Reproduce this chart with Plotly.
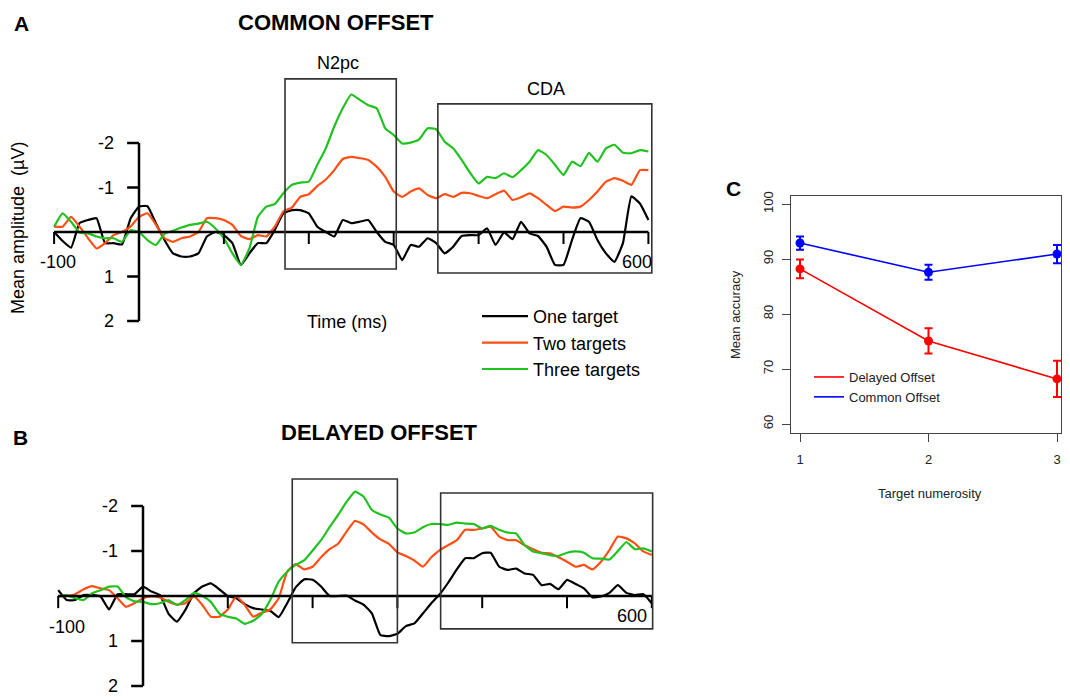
import plotly.graph_objects as go

# page body has an 8px margin; the figure is laid out in reference pixel coords
OX, OY = 8, 8
FW, FH = 1054, 689

# ---------------- data ----------------
time_ms = list(range(-100, 601, 10))
series_names = ["One target", "Two targets", "Three targets"]
series_colors = ["#000000", "#FF4F14", "#1FC21F"]

common_one = [0.0, 0.2, 0.35, -0.2, -0.27, -0.31, 0.25, 0.25, 0.28, -0.3,
              -0.57, -0.58, -0.19, 0.18, 0.48, 0.55, 0.55, 0.48, 0.1, 0.0,
              0.07, 0.25, 0.74, 0.48, 0.25, 0.25, -0.05, -0.42, -0.49, -0.49,
              -0.42, -0.12, 0.0, 0.1, -0.27, -0.2, -0.23, -0.27, 0.0, 0.22,
              0.29, 0.63, 0.29, 0.33, 0.14, 0.25, 0.48, 0.33, 0.09, 0.07,
              0.07, -0.08, 0.29, 0.01, 0.16, -0.23, 0.03, 0.09, 0.33, 0.74,
              0.74, 0.18, -0.31, -0.23, 0.18, 0.48, 0.67, 0.25, -0.8, -0.64,
              -0.27]
common_two = [-0.12, -0.12, -0.34, -0.12, 0.14, 0.37, 0.25, 0.07, 0.0, -0.12,
              -0.34, -0.42, -0.16, 0.14, 0.22, 0.14, 0.1, 0.0, -0.31, -0.31,
              -0.27, -0.16, 0.09, 0.16, 0.07, 0.1, -0.12, -0.46, -0.55, -0.79,
              -0.85, -1.03, -1.18, -1.39, -1.64, -1.69, -1.66, -1.62, -1.47, -1.24,
              -0.91, -0.79, -0.91, -0.98, -0.83, -0.76, -0.85, -0.79, -0.88, -0.87,
              -0.81, -0.76, -0.85, -0.93, -0.72, -0.78, -0.87, -0.76, -0.61, -0.47,
              -0.57, -0.55, -0.57, -0.72, -0.91, -1.13, -1.21, -1.15, -1.06, -1.39,
              -1.39]
common_three = [-0.12, -0.42, -0.23, 0.01, 0.03, 0.1, 0.14, 0.14, 0.22, -0.04,
                0.0, 0.18, 0.29, 0.04, -0.03, -0.1, -0.16, -0.19, -0.23, -0.08,
                0.14, 0.48, 0.74, 0.37, -0.34, -0.57, -0.63, -0.87, -1.06, -1.11,
                -1.13, -1.51, -1.88, -2.37, -2.78, -3.09, -2.97, -2.85, -2.78, -2.33,
                -2.18, -1.99, -2.01, -2.08, -2.33, -2.31, -2.03, -1.88, -1.62, -1.33,
                -1.09, -1.24, -1.21, -1.32, -1.23, -1.39, -1.58, -1.84, -1.73, -1.51,
                -1.28, -1.58, -1.48, -1.78, -1.58, -1.88, -1.96, -1.78, -1.77, -1.84,
                -1.81]

delayed_one = [-0.13, 0.09, 0.09, -0.02, -0.02, 0.01, 0.3, -0.04, -0.04, -0.04,
               -0.21, -0.1, -0.02, 0.39, 0.57, 0.31, -0.06, -0.21, -0.28, -0.15,
               0.0, 0.05, 0.18, 0.27, 0.3, 0.33, 0.47, 0.16, -0.19, -0.37,
               -0.36, -0.21, 0.0, 0.0, -0.01, 0.1, 0.19, 0.39, 0.87, 0.89,
               0.84, 0.67, 0.61, 0.39, 0.16, -0.04, -0.3, -0.59, -0.84, -0.84,
               -0.95, -0.96, -0.65, -0.58, -0.61, -0.5, -0.47, -0.24, -0.27, -0.15,
               -0.36, -0.27, -0.17, 0.03, 0.01, -0.07, -0.24, -0.07, -0.02, -0.04,
               0.16]
delayed_two = [0.01, 0.0, -0.04, -0.15, -0.22, -0.17, -0.13, 0.05, 0.24, 0.16,
               0.05, 0.01, 0.03, 0.13, 0.19, 0.16, 0.01, 0.2, 0.46, 0.46,
               0.3, 0.01, 0.2, 0.46, 0.37, 0.3, 0.05, -0.54, -0.71, -0.59,
               -0.65, -0.86, -1.04, -1.16, -1.43, -1.67, -1.59, -1.41, -1.26, -1.16,
               -0.97, -0.89, -0.79, -0.65, -0.86, -1.02, -1.13, -1.24, -1.47, -1.47,
               -1.5, -1.54, -1.32, -1.24, -1.24, -1.13, -1.04, -0.96, -0.95, -0.86,
               -0.76, -0.65, -0.69, -0.59, -0.76, -1.02, -1.32, -1.28, -1.17, -0.99,
               -0.91]
delayed_three = [0.01, -0.02, 0.05, 0.09, -0.06, -0.13, -0.21, -0.21, 0.03, 0.12,
                 0.13, 0.18, 0.16, 0.09, 0.2, 0.09, -0.07, 0.0, 0.13, 0.39,
                 0.46, 0.5, 0.62, 0.55, 0.4, 0.09, -0.32, -0.54, -0.69, -0.79,
                 -1.01, -1.24, -1.53, -1.8, -2.09, -2.32, -2.21, -1.91, -1.81, -1.74,
                 -1.5, -1.39, -1.41, -1.53, -1.6, -1.6, -1.58, -1.63, -1.61, -1.6,
                 -1.5, -1.56, -1.47, -1.41, -1.39, -1.13, -0.99, -0.95, -0.91, -0.89,
                 -0.96, -0.99, -0.96, -0.84, -0.83, -0.81, -1.0, -1.2, -1.04, -1.06,
                 -0.99]

x_tick_vals = [-100, 100, 200, 300, 400, 500, 600]
y_tick_vals = [-2, -1, 1, 2]

numerosity = [1, 2, 3]
delayed_acc = [88.2, 75.1, 68.2]
delayed_err = [1.7, 2.3, 3.3]
common_acc = [92.9, 87.6, 90.9]
common_err = [1.2, 1.35, 1.65]

FONT = "Arial, Liberation Sans, sans-serif"


def pxx(x):
    return (x - OX) / FW


def pxy(y):
    return 1 - (y - OY) / FH


fig = go.Figure()

for ys, nm, col in zip([common_one, common_two, common_three], series_names, series_colors):
    fig.add_trace(go.Scatter(x=time_ms, y=ys, mode="lines", name=nm,
                             line=dict(color=col, width=2.2, shape="spline", smoothing=0.4),
                             xaxis="x", yaxis="y", legend="legend", showlegend=True))
for ys, nm, col in zip([delayed_one, delayed_two, delayed_three], series_names, series_colors):
    fig.add_trace(go.Scatter(x=time_ms, y=ys, mode="lines", name=nm,
                             line=dict(color=col, width=2.2, shape="spline", smoothing=0.4),
                             xaxis="x2", yaxis="y2", showlegend=False))

fig.add_trace(go.Scatter(x=numerosity, y=delayed_acc, mode="lines+markers", name="Delayed Offset",
                         line=dict(color="#FF0000", width=1.6), marker=dict(size=9, color="#FF0000"),
                         error_y=dict(type="data", array=delayed_err, color="#FF0000", thickness=2, width=4),
                         xaxis="x3", yaxis="y3", showlegend=False, cliponaxis=False))
fig.add_trace(go.Scatter(x=numerosity, y=common_acc, mode="lines+markers", name="Common Offset",
                         line=dict(color="#0000FF", width=1.6), marker=dict(size=9, color="#0000FF"),
                         error_y=dict(type="data", array=common_err, color="#0000FF", thickness=2, width=4),
                         xaxis="x3", yaxis="y3", showlegend=False, cliponaxis=False))
fig.add_trace(go.Scatter(x=[None], y=[None], mode="lines", name="Delayed Offset",
                         line=dict(color="#FF0000", width=1.6), xaxis="x3", yaxis="y3", legend="legend2"))
fig.add_trace(go.Scatter(x=[None], y=[None], mode="lines", name="Common Offset",
                         line=dict(color="#0000FF", width=1.6), xaxis="x3", yaxis="y3", legend="legend2"))

shapes = []
annotations = []


def erp_axes(xr, yr, tlen, ylen):
    s = [dict(type="line", xref=xr, yref=yr, x0=-100, x1=600, y0=0, y1=0,
              line=dict(color="black", width=2.5)),
         dict(type="line", xref=xr, yref=yr, x0=0, x1=0, y0=-2, y1=2,
              line=dict(color="black", width=2.5))]
    for t in x_tick_vals:
        s.append(dict(type="line", xref=xr, yref=yr, x0=t, x1=t, y0=0, y1=tlen,
                      line=dict(color="black", width=2)))
    for v in y_tick_vals:
        s.append(dict(type="line", xref=xr, yref=yr, x0=-ylen, x1=0, y0=v, y1=v,
                      line=dict(color="black", width=2.5)))
    a = []
    for v in y_tick_vals:
        a.append(dict(xref=xr, yref=yr, x=-27, y=v, text=str(v), showarrow=False,
                      xanchor="right", yanchor="middle", font=dict(size=18, color="black", family=FONT)))
    return s, a


s, a = erp_axes("x", "y", 0.27, 14)
shapes += s
annotations += a
s, a = erp_axes("x2", "y2", 0.27, 14)
shapes += s
annotations += a

box_line = dict(color="#333333", width=1.6)
shapes += [
    dict(type="rect", xref="x", yref="y", x0=172, x1=303, y0=-3.44, y1=0.83, line=box_line),
    dict(type="rect", xref="x", yref="y", x0=352, x1=604, y0=-2.88, y1=0.92, line=box_line),
    dict(type="rect", xref="x2", yref="y2", x0=176, x1=300, y0=-2.6, y1=1.04, line=box_line),
    dict(type="rect", xref="x2", yref="y2", x0=351, x1=601, y0=-2.29, y1=0.73, line=box_line),
]

f18 = dict(size=18, color="black", family=FONT)


def ann(x, y, text, font, angle=0, ref=("paper", "paper"), yanchor="middle"):
    return dict(xref=ref[0], yref=ref[1], x=x, y=y, text=text, showarrow=False, font=font,
                textangle=angle, xanchor="center", yanchor=yanchor)


annotations += [
    ann(-95, 0.67, "-100", f18, ref=("x", "y")),
    ann(586, 0.67, "600", f18, ref=("x", "y")),
    ann(-90, 0.69, "-100", f18, ref=("x2", "y2")),
    ann(577, 0.44, "600", f18, ref=("x2", "y2")),
    ann(pxx(338), pxy(63), "N2pc", f18),
    ann(pxx(546), pxy(89), "CDA", f18),
    ann(pxx(347), pxy(322), "Time (ms)", f18),
    ann(pxx(18), pxy(228), "Mean amplitude  (µV)", f18, angle=-90),
    ann(pxx(336), 1.0, "<b>COMMON OFFSET</b>", dict(size=22, color="black", family=FONT), yanchor="top"),
    ann(pxx(379), pxy(432), "<b>DELAYED OFFSET</b>", dict(size=22, color="black", family=FONT)),
    ann(pxx(21), pxy(23), "<b>A</b>", dict(size=21, color="black", family=FONT)),
    ann(pxx(20), pxy(437), "<b>B</b>", dict(size=21, color="black", family=FONT)),
    ann(pxx(733), pxy(188), "<b>C</b>", dict(size=21, color="black", family=FONT)),
    ann(pxx(930), pxy(493), "Target numerosity", dict(size=13, color="#222222", family=FONT)),
    ann(pxx(735), pxy(315), "Mean accuracy", dict(size=13, color="#222222", family=FONT), angle=-90),
]

# panel C pixel geometry: x=1 at 800 px, x=3 at 1057 px
c_scale = (1057 - 800) / 2.0

fig.update_layout(
    width=FW, height=FH,
    margin=dict(l=0, r=0, t=0, b=0, autoexpand=False),
    paper_bgcolor="white", plot_bgcolor="white",
    font=dict(family=FONT, color="black"),
    shapes=shapes, annotations=annotations,
    xaxis=dict(domain=[pxx(50), pxx(660)], range=[(50 - 139) / 0.849, (660 - 139) / 0.849],
               visible=False, anchor="y", automargin=False),
    yaxis=dict(domain=[pxy(335), pxy(55)], range=[(335 - 232) / 44.5, (55 - 232) / 44.5],
               visible=False, anchor="x", automargin=False),
    xaxis2=dict(domain=[pxx(50), pxx(660)], range=[(50 - 143) / 0.848, (660 - 143) / 0.848],
                visible=False, anchor="y2", automargin=False),
    yaxis2=dict(domain=[pxy(690), pxy(470)], range=[(690 - 596) / 45, (470 - 596) / 45],
                visible=False, anchor="x2", automargin=False),
    xaxis3=dict(domain=[pxx(791), pxx(1061)], range=[1 - 9 / c_scale, 3 + 4 / c_scale],
                anchor="y3", showline=True, mirror=True, linecolor="#444444", linewidth=1,
                ticks="outside", ticklen=8, tickcolor="#444444", tickvals=numerosity,
                showgrid=False, zeroline=False, tickfont=dict(size=13, color="#222222"),
                ticklabelstandoff=6, automargin=False),
    yaxis3=dict(domain=[pxy(433), pxy(196)], range=[60 - (433 - 424) / 5.5, 100 + (204 - 196) / 5.5],
                anchor="x3", showline=True, mirror=True, linecolor="#444444", linewidth=1,
                ticks="outside", ticklen=8, tickcolor="#444444", tickvals=[60, 70, 80, 90, 100],
                tickangle=-90, showgrid=False, zeroline=False, tickfont=dict(size=13, color="#222222"),
                ticklabelstandoff=4, automargin=False),
    legend=dict(x=pxx(477), y=pxy(298), xanchor="left", yanchor="top", bgcolor="rgba(0,0,0,0)",
                font=dict(size=18, color="black", family=FONT), itemwidth=46, tracegroupgap=0),
    legend2=dict(x=pxx(809), y=pxy(362), xanchor="left", yanchor="top", bgcolor="rgba(0,0,0,0)",
                 font=dict(size=13, color="#222222", family=FONT), itemwidth=30, tracegroupgap=0),
)

fig.write_html("out.html")
